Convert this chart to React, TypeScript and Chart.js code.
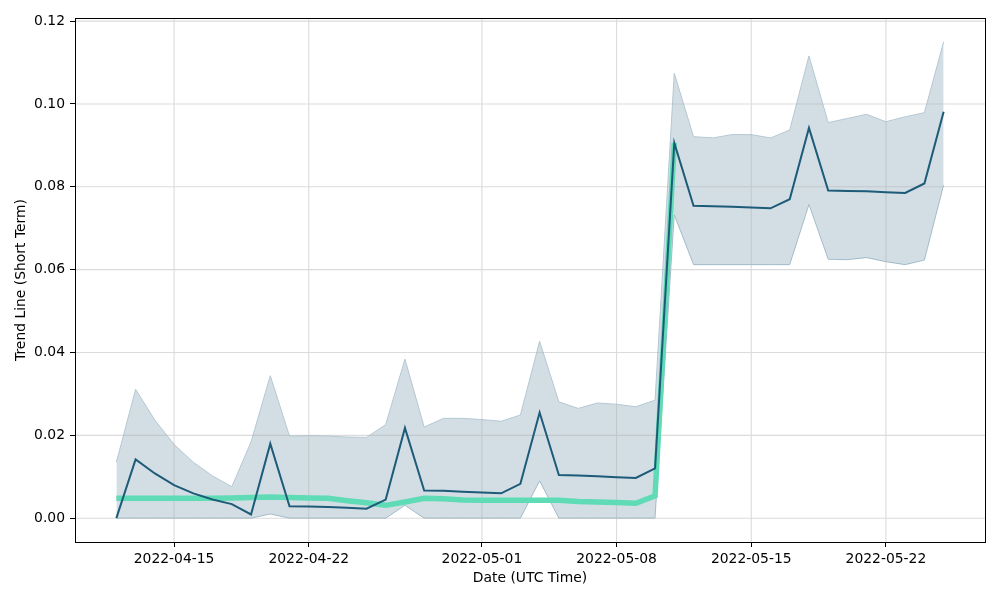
import React, { useEffect, useRef } from "react";
import { Chart, registerables } from "chart.js";

Chart.register(...registerables);

const dates = [
  "2022-04-12", "2022-04-13", "2022-04-14", "2022-04-15", "2022-04-16", "2022-04-17", "2022-04-18",
  "2022-04-19", "2022-04-20", "2022-04-21", "2022-04-22", "2022-04-23", "2022-04-24", "2022-04-25",
  "2022-04-26", "2022-04-27", "2022-04-28", "2022-04-29", "2022-04-30", "2022-05-01", "2022-05-02",
  "2022-05-03", "2022-05-04", "2022-05-05", "2022-05-06", "2022-05-07", "2022-05-08", "2022-05-09",
  "2022-05-10", "2022-05-11", "2022-05-12", "2022-05-13", "2022-05-14", "2022-05-15", "2022-05-16",
  "2022-05-17", "2022-05-18", "2022-05-19", "2022-05-20", "2022-05-21", "2022-05-22", "2022-05-23",
  "2022-05-24", "2022-05-25",
];

const trendValues = [
  0.0, 0.0142, 0.0108, 0.008, 0.006, 0.0045, 0.0034, 0.0009, 0.018, 0.0029, 0.0028,
  0.0027, 0.0025, 0.0023, 0.0045, 0.0218, 0.0067, 0.0066, 0.0064, 0.0062, 0.006, 0.0083,
  0.0255, 0.0104, 0.0103, 0.0101, 0.0099, 0.0097, 0.012, 0.0906, 0.0754, 0.0753, 0.0752,
  0.075, 0.0748, 0.077, 0.0942, 0.0791, 0.079, 0.0789, 0.0787, 0.0785, 0.0808, 0.0981,
];

const upperValues = [
  0.0135, 0.0311, 0.0237, 0.0178, 0.0135, 0.0102, 0.0076, 0.0184, 0.0344, 0.0198, 0.0199,
  0.0198, 0.0196, 0.0195, 0.0226, 0.0384, 0.022, 0.0241, 0.0241, 0.0238, 0.0234, 0.0249,
  0.0427, 0.0281, 0.0265, 0.0278, 0.0275, 0.0269, 0.0285, 0.1074, 0.0921, 0.0918, 0.0926,
  0.0926, 0.0918, 0.0937, 0.1116, 0.0955, 0.0965, 0.0975, 0.0957, 0.0969, 0.0979, 0.115,
];

const lowerValues = [
  0.0, 0.0, 0.0, 0.0, 0.0, 0.0, 0.0, 0.0, 0.001, 0.0, 0.0,
  0.0, 0.0, 0.0, 0.0, 0.0031, 0.0, 0.0, 0.0, 0.0, 0.0, 0.0,
  0.009, 0.0, 0.0, 0.0, 0.0, 0.0, 0.0, 0.0732, 0.0612, 0.0612, 0.0612,
  0.0612, 0.0612, 0.0612, 0.0757, 0.0625, 0.0624, 0.0629, 0.0619, 0.0612, 0.0623, 0.0804,
];

// long-term trend only spans the first 30 dates
const longTermValues = [
  0.0048, 0.0048, 0.0048, 0.0048, 0.0048, 0.0048, 0.0049, 0.005, 0.0051, 0.005, 0.0049,
  0.0048, 0.0042, 0.0037, 0.0031, 0.0039, 0.0048, 0.0047, 0.0044, 0.0043, 0.0043, 0.0043,
  0.0043, 0.0043, 0.004, 0.0039, 0.0038, 0.0036, 0.0054, 0.0906,
];

const xTickLabels = ["2022-04-15", "2022-04-22", "2022-05-01", "2022-05-08", "2022-05-15", "2022-05-22"];
const yTickValues = [0.0, 0.02, 0.04, 0.06, 0.08, 0.1, 0.12];

const BASE = Date.UTC(2022, 3, 15);
const dayOf = (s: string) => (Date.parse(s + "T00:00:00Z") - BASE) / 86400000;

const pts = (vals: number[]) => vals.map((v, i) => ({ x: dayOf(dates[i]), y: v }));

const FONT = "'DejaVu Sans', sans-serif";
const GRID = "rgba(176,176,176,0.45)";

export default function App() {
  const ref = useRef<HTMLCanvasElement>(null);

  useEffect(() => {
    if (!ref.current) return;
    const firstX = dayOf(dates[0]);
    const lastX = dayOf(dates[dates.length - 1]);
    const xPad = (lastX - firstX) * 0.05;
    const yMaxData = Math.max(...upperValues);
    const yMinData = 0;
    const yPad = (yMaxData - yMinData) * 0.05;

    const gridPlugin = {
      id: "gridAndFrame",
      afterDatasetDraw(chart: any, args: any) {
        if (args.index !== 1) return;
        const { ctx, chartArea, scales } = chart;
        ctx.save();
        ctx.strokeStyle = GRID;
        ctx.lineWidth = 1.1;
        ctx.beginPath();
        for (const l of xTickLabels) {
          const x = scales.x.getPixelForValue(dayOf(l));
          ctx.moveTo(x, chartArea.top);
          ctx.lineTo(x, chartArea.bottom);
        }
        for (const v of yTickValues) {
          const y = scales.y.getPixelForValue(v);
          ctx.moveTo(chartArea.left, y);
          ctx.lineTo(chartArea.right, y);
        }
        ctx.stroke();
        ctx.restore();
      },
      afterDraw(chart: any) {
        const { ctx, chartArea } = chart;
        ctx.save();
        ctx.strokeStyle = "#000";
        ctx.lineWidth = 1;
        ctx.strokeRect(
          Math.round(chartArea.left) + 0.5,
          Math.round(chartArea.top) + 0.5,
          Math.round(chartArea.right - chartArea.left),
          Math.round(chartArea.bottom - chartArea.top)
        );
        ctx.restore();
      },
    };

    const chart = new Chart(ref.current, {
      type: "line",
      data: {
        datasets: [
          {
            label: "Trend Line (Short Term)",
            data: pts(trendValues),
            borderColor: "#1d5b79",
            borderWidth: 2,
            pointRadius: 0,
            fill: false,
            order: 0,
          },
          {
            label: "Upper",
            data: pts(upperValues),
            borderColor: "#b4c8d3",
            borderWidth: 1,
            pointRadius: 0,
            backgroundColor: "rgba(29,91,121,0.2)",
            fill: "+1",
            order: 2,
          },
          {
            label: "Lower",
            data: pts(lowerValues),
            borderColor: "#b4c8d3",
            borderWidth: 1,
            pointRadius: 0,
            fill: false,
            order: 3,
          },
          {
            label: "Trend Line (Long Term)",
            data: pts(longTermValues),
            borderColor: "#5fdbb6",
            borderWidth: 5.5,
            pointRadius: 0,
            fill: false,
            order: 1,
          },
        ],
      },
      options: {
        animation: false,
        responsive: false,
        maintainAspectRatio: false,
        layout: { padding: { left: 0, right: 15, top: 18, bottom: 0 } },
        plugins: { legend: { display: false }, tooltip: { enabled: false } },
        elements: { line: { tension: 0 } },
        scales: {
          x: {
            type: "linear",
            min: firstX - xPad,
            max: lastX + xPad,
            afterBuildTicks: (scale: any) => {
              scale.ticks = xTickLabels.map((l) => ({ value: dayOf(l) }));
            },
            afterFit: (scale: any) => {
              scale.height = 58;
            },
            ticks: {
              autoSkip: false,
              maxRotation: 0,
              padding: 4,
              color: "#000",
              font: { family: FONT, size: 13.9 },
              callback: (_v: any, i: number) => xTickLabels[i],
            },
            grid: { drawOnChartArea: false, drawTicks: true, tickLength: 5, tickColor: "#000", tickWidth: 1 },
            border: { display: true, color: "#000", width: 1 },
            title: {
              display: true,
              text: "Date (UTC Time)",
              color: "#000",
              font: { family: FONT, size: 13.9 },
              padding: { top: 0, bottom: 13.5 },
            },
          },
          y: {
            type: "linear",
            min: yMinData - yPad,
            max: yMaxData + yPad,
            afterBuildTicks: (scale: any) => {
              scale.ticks = yTickValues.map((v) => ({ value: v }));
            },
            afterFit: (scale: any) => {
              scale.width = 75;
            },
            ticks: {
              autoSkip: false,
              padding: 5,
              color: "#000",
              font: { family: FONT, size: 13.9 },
              callback: (v: any) => Number(v).toFixed(2),
            },
            grid: { drawOnChartArea: false, drawTicks: true, tickLength: 5, tickColor: "#000", tickWidth: 1 },
            border: { display: true, color: "#000", width: 1 },
            title: {
              display: true,
              text: "Trend Line (Short Term)",
              color: "#000",
              font: { family: FONT, size: 13.9 },
              padding: { top: 13, bottom: 0 },
            },
          },
        },
      },
      plugins: [gridPlugin],
    });
    return () => chart.destroy();
  }, []);

  return (
    <div style={{ position: "fixed", left: 0, top: 0, width: 1000, height: 600, background: "#fff" }}>
      <canvas ref={ref} width={1000} height={600} />
    </div>
  );
}
